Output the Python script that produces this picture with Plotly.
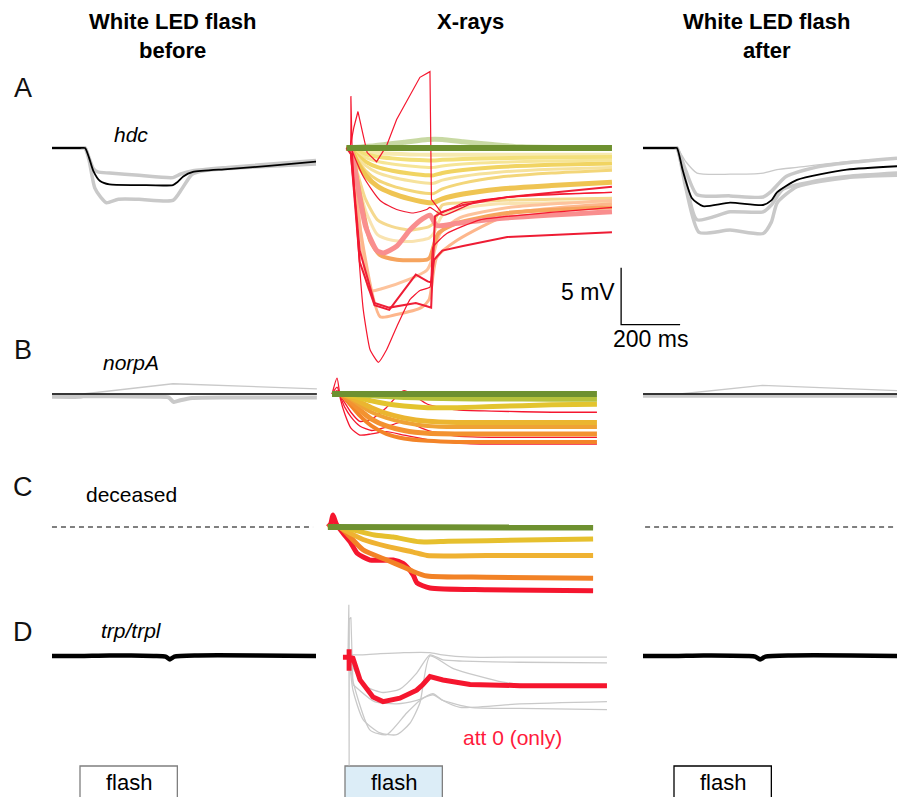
import plotly.graph_objects as go

W, H = 897, 797
PX_PER_MS = 0.295      # horizontal scale shared by every panel
PX_PER_MV = 11.4       # vertical scale shared by every panel
FLASH_MS = 330
SCALE_MS = 200
SCALE_MV = 5
FONT = "Liberation Sans, Arial, Helvetica, sans-serif"

# ---------------------------------------------------------------- data
# time in ms from flash onset, membrane potential in mV from rest

# A  hdc, white LED before
hdc_before_black_t = [-95, 0, 17, 30, 45, 68, 100, 200, 315, 330, 350, 383, 500, 650, 800]
hdc_before_black_v = [0, 0, 0, -0.8, -2.0, -2.9, -3.2, -3.25, -3.25, -3.0, -2.5, -2.1, -1.85, -1.55, -1.2]
hdc_before_grey1_t = [-95, 0, 17, 30, 45, 60, 100, 200, 315, 340, 383, 500, 800]
hdc_before_grey1_v = [0, 0, 0, -0.8, -1.8, -2.1, -2.2, -2.4, -2.6, -2.3, -2.0, -1.7, -1.1]
hdc_before_grey2_t = [-95, 0, 17, 30, 50, 70, 90, 130, 200, 315, 345, 380, 420, 500, 800]
hdc_before_grey2_v = [0, 0, 0, -1.0, -3.5, -4.3, -4.8, -4.5, -4.5, -4.6, -3.6, -2.3, -2.0, -1.8, -1.4]

# A  hdc, white LED after
hdc_after_black_t = [-105, 0, 10, 30, 61, 98, 190, 302, 330, 349, 417, 586, 756]
hdc_after_black_v = [0, 0, 0, -2.0, -4.4, -5.1, -4.8, -5.0, -4.6, -3.9, -2.8, -1.9, -1.6]
hdc_after_thin_t = [-105, 0, 10, 40, 78, 190, 302, 349, 417, 586, 756]
hdc_after_thin_v = [0, 0, 0, -1.2, -2.2, -2.3, -2.2, -1.9, -1.7, -1.2, -0.9]
hdc_after_grey1_t = [-105, 0, 10, 40, 78, 190, 302, 330, 380, 480, 586, 756]
hdc_after_grey1_v = [0, 0, 0, -2.0, -4.1, -4.2, -4.3, -3.8, -2.5, -1.7, -1.3, -0.9]
hdc_after_grey2_t = [-105, 0, 10, 40, 78, 190, 302, 330, 370, 480, 586, 756]
hdc_after_grey2_v = [0, 0, 0, -3.0, -6.3, -5.6, -5.6, -5.0, -3.6, -2.9, -2.5, -2.2]
hdc_after_grey3_t = [-105, 0, 10, 40, 85, 190, 302, 330, 350, 417, 586, 756]
hdc_after_grey3_v = [0, 0, 0, -3.5, -7.4, -7.2, -7.5, -6.5, -4.8, -3.4, -2.6, -2.4]

# A  hdc, X-ray responses (attenuation series)
hdc_xray_t = [5, 20, 40, 70, 110, 160, 220, 285, 300, 330, 400, 520, 700, 905]
hdc_xray_y1 = [0, 0, -0.15, -0.3, -0.42, -0.5, -0.56, -0.6, -0.6, -0.6, -0.6, -0.6, -0.6, -0.6]
hdc_xray_y2 = [0, -0.02, -0.28, -0.55, -0.77, -0.91, -1.02, -1.1, -1.1, -1.04, -0.97, -0.89, -0.84, -0.8]
hdc_xray_y3 = [0, -0.03, -0.43, -0.85, -1.19, -1.41, -1.58, -1.7, -1.7, -1.57, -1.41, -1.25, -1.13, -1.05]
hdc_xray_y4 = [0, -0.05, -0.6, -1.2, -1.68, -1.99, -2.23, -2.4, -2.4, -2.19, -1.93, -1.67, -1.48, -1.35]
hdc_xray_y5 = [0, -0.06, -0.78, -1.55, -2.17, -2.57, -2.88, -3.1, -3.1, -2.82, -2.47, -2.12, -1.87, -1.7]
hdc_xray_y6 = [0, -0.08, -1.0, -2.0, -2.8, -3.32, -3.72, -4.0, -4.0, -3.59, -3.08, -2.57, -2.2, -1.95]
hdc_xray_y7 = [0, -0.1, -1.2, -2.4, -3.36, -3.98, -4.46, -4.8, -4.8, -4.46, -4.04, -3.61, -3.3, -3.0]
hdc_xray_y8 = [0, -0.1, -2.0, -4.5, -6.3, -6.9, -7.2, -6.9, -6.6, -5.0, -4.8, -4.6, -4.5, -4.4]
hdc_xray_y9 = [0, -0.1, -2.5, -5.5, -7.6, -8.1, -8.2, -7.9, -7.5, -5.9, -5.3, -4.9, -4.8, -4.7]

hdc_xray_peach1_t = [5, 20, 40, 85, 130, 210, 278, 295, 322, 390, 560, 905]
hdc_xray_peach1_v = [0, -0.1, -4.0, -12.5, -12.3, -11.6, -10.7, -9.8, -7.5, -6.1, -5.2, -4.6]
hdc_xray_peach2_t = [5, 20, 45, 119, 175, 258, 285, 311, 380, 560, 905]
hdc_xray_peach2_v = [0, -0.2, -6.0, -14.8, -14.6, -14.0, -13.3, -9.6, -8.1, -5.8, -4.9]
hdc_xray_pink_t = [5, 20, 44, 70, 108, 130, 176, 220, 264, 288, 311, 380, 515, 905]
hdc_xray_pink_v = [0, -0.2, -3.5, -6.9, -9.0, -9.2, -8.6, -7.2, -6.2, -5.9, -6.8, -6.6, -6.2, -5.6]
hdc_xray_orange_t = [5, 20, 50, 85, 119, 176, 278, 288, 316, 379, 550, 905]
hdc_xray_orange_v = [0, -0.2, -4.0, -8.1, -9.4, -9.8, -9.8, -9.6, -7.5, -6.6, -5.7, -5.2]

hdc_xray_red1_t = [5, 20, 50, 100, 150, 200, 240, 280, 292, 305, 330, 400, 550, 905]
hdc_xray_red1_v = [0, -0.5, -9.0, -13.6, -14.0, -13.8, -13.6, -13.9, -14.0, -6.0, -5.6, -5.0, -4.3, -3.4]
hdc_xray_red2_t = [5, 20, 50, 100, 150, 200, 240, 280, 292, 302, 330, 400, 550, 905]
hdc_xray_red2_v = [0, -0.5, -10.0, -13.8, -14.2, -12.5, -11.1, -11.7, -11.8, -9.8, -9.0, -8.6, -7.8, -7.4]
hdc_xray_redup_t = [5, 17, 30, 44, 60, 75, 107, 141, 175, 232, 254, 288, 293, 328, 400, 627, 905]
hdc_xray_redup_v = [0, 0, 1.8, 3.2, 1.3, -0.4, -1.2, 0.2, 2.5, 5.1, 6.2, 6.7, -4.5, -5.7, -4.8, -4.1, -3.9]
hdc_xray_redmid_t = [20, 62, 119, 175, 232, 277, 288, 311, 335, 458, 905]
hdc_xray_redmid_v = [0, -2.5, -4.6, -5.4, -5.7, -5.4, -5.2, -5.6, -5.9, -4.6, -3.9]
hdc_xray_reddeep_t = [5, 17, 20, 24, 40, 62, 85, 113, 141, 175, 220, 254, 288, 298, 345, 458, 905]
hdc_xray_reddeep_v = [0, 0, 4.5, 0, -6.9, -14.2, -17.7, -18.8, -17.7, -15.7, -13.3, -12.5, -12.2, -8.7, -7.5, -6.3, -5.2]

hdc_xray_palegreen_t = [5, 100, 200, 280, 330, 400, 500, 600, 905]
hdc_xray_palegreen_v = [0, 0.2, 0.5, 0.75, 0.75, 0.55, 0.3, 0.1, 0.0]
hdc_xray_green_t = [5, 300, 600, 905]
hdc_xray_green_v = [0, 0, 0, 0]

# B  norpA
norpa_before_grey_t = [-95, 0, 10, 100, 250, 300, 318, 340, 380, 500, 803]
norpa_before_grey_v = [-0.25, -0.25, -0.2, -0.2, -0.25, -0.3, -0.7, -0.55, -0.35, -0.3, -0.3]
norpa_before_thin_t = [-95, 10, 315, 803]
norpa_before_thin_v = [0, 0, 0.9, 0.45]
norpa_before_black_t = [-95, 803]
norpa_before_black_v = [0, 0]
norpa_after_grey_t = [-105, 756]
norpa_after_grey_v = [-0.15, -0.15]
norpa_after_thin_t = [-105, 20, 300, 756]
norpa_after_thin_v = [0, 0, 0.75, 0.3]
norpa_after_black_t = [-105, 756]
norpa_after_black_v = [0, 0]

norpa_xray_t = [-44, -27, -15, 0, 20, 50, 90, 140, 200, 280, 380, 500, 700, 854]
norpa_xray_red1 = [0, 1.4, -0.5, -1.8, -3.0, -3.6, -3.5, -3.3, -3.6, -4.0, -4.3, -4.4, -4.4, -4.4]
norpa_xray_red2 = [0, 0.6, -0.2, -0.8, -1.6, -2.4, -2.2, -1.2, 0.3, -0.9, -1.4, -1.5, -1.6, -1.6]
norpa_xray_red3 = [0, 0.3, -0.3, -1.2, -2.0, -2.8, -3.2, -2.9, -2.4, -3.2, -3.7, -3.8, -3.8, -3.8]
norpa_xray_orange2 = [0, 0, -0.05, -0.4, -1.0, -1.9, -2.8, -3.5, -3.9, -4.1, -4.2, -4.2, -4.2, -4.2]
norpa_xray_orange1 = [0, 0, 0, -0.25, -0.7, -1.4, -2.2, -2.8, -3.2, -3.45, -3.5, -3.5, -3.5, -3.5]
norpa_xray_gold2 = [0, 0, 0, -0.15, -0.45, -1.0, -1.6, -2.1, -2.5, -2.8, -2.9, -2.9, -2.9, -2.9]
norpa_xray_gold1 = [0, 0, 0, -0.1, -0.3, -0.7, -1.2, -1.7, -2.1, -2.4, -2.5, -2.5, -2.5, -2.5]
norpa_xray_yellow = [0, 0, 0, -0.05, -0.15, -0.35, -0.6, -0.85, -1.05, -1.2, -1.2, -1.1, -0.95, -0.9]
norpa_xray_lime = [0, 0, 0, 0, -0.02, -0.08, -0.15, -0.23, -0.3, -0.37, -0.42, -0.44, -0.45, -0.45]
norpa_xray_green = [0, 0, 0, 0, 0, 0, 0, 0, 0, 0, 0, 0, 0, 0]

# C  deceased
dead_before_t = [-95, 790]
dead_before_v = [0, 0]
dead_after_t = [-98, 756]
dead_after_v = [0, 0]
dead_xray_red_t = [-58, -48, -41, -30, -7, 20, 41, 85, 163, 197, 210, 231, 244, 288, 481, 841]
dead_xray_red_v = [0, 0.3, 1.05, 0.3, -0.53, -1.4, -2.3, -2.9, -2.9, -3.2, -3.5, -4.2, -4.9, -5.35, -5.5, -5.6]
dead_xray_orange_t = [-58, -20, 0, 61, 142, 197, 231, 278, 481, 841]
dead_xray_orange_v = [0, 0, -0.4, -2.0, -2.9, -3.5, -3.9, -4.3, -4.4, -4.5]
dead_xray_gold_t = [-58, -20, 0, 61, 142, 231, 278, 481, 841]
dead_xray_gold_v = [0, 0, -0.3, -1.1, -1.7, -2.2, -2.5, -2.5, -2.5]
dead_xray_yellow_t = [-58, -20, 20, 100, 163, 254, 350, 481, 841]
dead_xray_yellow_v = [0, 0, -0.2, -0.7, -0.88, -1.3, -1.25, -1.2, -1.05]
dead_xray_green_t = [-58, 841]
dead_xray_green_v = [0, -0.05]

# D  trp/trpl
trp_before_t = [-95, 0, 100, 250, 290, 305, 320, 400, 600, 800]
trp_before_v = [0, 0, 0.05, 0, -0.05, -0.3, -0.05, 0.05, 0.05, 0]
trp_after_t = [-105, 0, 100, 250, 275, 292, 310, 400, 600, 756]
trp_after_v = [0, 0, 0.05, 0, -0.05, -0.3, -0.05, 0.05, 0.05, 0]
trp_xray_spike_t = [10, 13, 14, 14.5, 20, 27]
trp_xray_spike_v = [0, 4.5, -9.6, 3.2, 3.4, -2.5]
trp_xray_g1_t = [14, 60, 120, 200, 288, 330, 424, 593, 888]
trp_xray_g1_v = [0.1, 0.1, 0.2, 0.3, 0.3, 0.1, -0.1, -0.1, -0.1]
trp_xray_g2_t = [14, 27, 73, 129, 186, 243, 288, 332, 400, 593, 888]
trp_xray_g2_v = [0, -1.0, -2.7, -3.2, -2.9, -1.5, 0.1, -0.35, -0.45, -0.55, -0.6]
trp_xray_g3_t = [14, 27, 62, 119, 175, 220, 254, 288, 367, 536, 649, 888]
trp_xray_g3_v = [0, -3.0, -5.6, -6.75, -6.9, -5.9, -4.1, 0.0, -1.1, -2.3, -2.6, -2.7]
trp_xray_g4_t = [14, 27, 85, 141, 209, 254, 298, 332, 390, 593, 888]
trp_xray_g4_v = [0, -2.2, -6.5, -6.9, -5.0, -3.9, -3.3, -3.9, -4.5, -4.2, -4.0]
trp_xray_g5_t = [27, 100, 175, 243, 298, 332, 424, 593, 888]
trp_xray_g5_v = [-2.5, -4.0, -4.2, -3.9, -3.4, -3.9, -4.5, -4.6, -4.7]
trp_xray_red_t = [-7, 14, 14, 14, 14, 27, 51, 95, 129, 186, 243, 264, 288, 332, 424, 593, 888]
trp_xray_red_v = [-0.1, -0.1, 0.6, -1.3, -0.1, -0.2, -2.1, -3.6, -4.0, -3.7, -3.0, -2.5, -1.8, -2.1, -2.5, -2.6, -2.6]

# text
col_titles = ["White LED flash<br>before", "X-rays", "White LED flash<br>after"]
row_letters = ["A", "B", "C", "D"]
genotypes = ["<i>hdc</i>", "<i>norpA</i>", "deceased", "<i>trp/trpl</i>"]

# ---------------------------------------------------------------- layout
COLS = [dict(left=40, right=330, onset=80),
        dict(left=325, right=625, onset=345),
        dict(left=630, right=897, onset=674)]
ROWS = [dict(top=55, bottom=368, base=148),
        dict(top=368, bottom=462, base=394),
        dict(top=462, bottom=600, base=527),
        dict(top=600, bottom=772, base=656)]

fig = go.Figure()
axes = {}


def ax_index(r, c):
    return r * 3 + c + 1


def ax_names(r, c):
    i = ax_index(r, c)
    return ("x", "y") if i == 1 else (f"x{i}", f"y{i}")


for r, row in enumerate(ROWS):
    for c, col in enumerate(COLS):
        i = ax_index(r, c)
        right = 700 if (r == 0 and c == 1) else col["right"]
        xn, yn = ax_names(r, c)
        axes["xaxis" if i == 1 else f"xaxis{i}"] = dict(
            domain=[col["left"] / W, right / W],
            range=[(col["left"] - col["onset"]) / PX_PER_MS, (right - col["onset"]) / PX_PER_MS],
            anchor=yn, visible=False, fixedrange=True)
        axes["yaxis" if i == 1 else f"yaxis{i}"] = dict(
            domain=[1 - row["bottom"] / H, 1 - row["top"] / H],
            range=[(row["base"] - row["bottom"]) / PX_PER_MV, (row["base"] - row["top"]) / PX_PER_MV],
            anchor=xn, visible=False, fixedrange=True)


def add(r, c, t, v, color, width, shape="spline", dash=None, smoothing=0.6):
    xn, yn = ax_names(r, c)
    line = dict(color=color, width=width, shape=shape, dash=dash)
    if shape == "spline":
        line["smoothing"] = smoothing
    fig.add_trace(go.Scatter(x=t, y=v, mode="lines", xaxis=xn, yaxis=yn, line=line,
                             hoverinfo="skip", showlegend=False))


GREY = "#c9c9c9"
GREEN = "#6e9130"

# A / before
add(0, 0, hdc_before_grey1_t, hdc_before_grey1_v, GREY, 3.5)
add(0, 0, hdc_before_grey2_t, hdc_before_grey2_v, GREY, 3.5)
add(0, 0, hdc_before_black_t, hdc_before_black_v, "black", 1.8)
# A / after
add(0, 2, hdc_after_thin_t, hdc_after_thin_v, GREY, 1.3)
add(0, 2, hdc_after_grey1_t, hdc_after_grey1_v, GREY, 3.5)
add(0, 2, hdc_after_grey2_t, hdc_after_grey2_v, GREY, 3.5)
add(0, 2, hdc_after_grey3_t, hdc_after_grey3_v, GREY, 3.5)
add(0, 2, hdc_after_black_t, hdc_after_black_v, "black", 1.8)
# A / X-rays
add(0, 1, hdc_xray_palegreen_t, hdc_xray_palegreen_v, "#c8d9a3", 5)
for vals, colr, w in [(hdc_xray_y9, "#f9e3b0", 3), (hdc_xray_y8, "#f5d98f", 3),
                      (hdc_xray_y1, "#f7eab0", 4), (hdc_xray_y2, "#f3e07a", 4),
                      (hdc_xray_y3, "#f6e596", 3), (hdc_xray_y4, "#f1d462", 4),
                      (hdc_xray_y5, "#f6e29c", 3), (hdc_xray_y6, "#f3d679", 3),
                      (hdc_xray_y7, "#efc452", 5)]:
    add(0, 1, hdc_xray_t, vals, colr, w)
add(0, 1, hdc_xray_peach1_t, hdc_xray_peach1_v, "#fdc39c", 3)
add(0, 1, hdc_xray_peach2_t, hdc_xray_peach2_v, "#fdb68c", 3)
add(0, 1, hdc_xray_orange_t, hdc_xray_orange_v, "#f6a45e", 4)
add(0, 1, hdc_xray_pink_t, hdc_xray_pink_v, "#f98e8e", 5)
add(0, 1, hdc_xray_red1_t, hdc_xray_red1_v, "#ef2038", 2, shape="linear")
add(0, 1, hdc_xray_red2_t, hdc_xray_red2_v, "#ee1c34", 2, shape="linear")
add(0, 1, hdc_xray_redmid_t, hdc_xray_redmid_v, "#f01830", 1.2)
add(0, 1, hdc_xray_reddeep_t, hdc_xray_reddeep_v, "#f5162e", 1.2, smoothing=0.4)
add(0, 1, hdc_xray_redup_t, hdc_xray_redup_v, "#f5162e", 1.2, shape="linear")
add(0, 1, hdc_xray_green_t, hdc_xray_green_v, GREEN, 6)

# scale bar (drawn in the X-ray hdc axes)
SCALE_T0, SCALE_V0 = 936, -15.5
add(0, 1, [SCALE_T0, SCALE_T0, SCALE_T0 + SCALE_MS], [SCALE_V0 + SCALE_MV, SCALE_V0, SCALE_V0],
    "black", 1.3, shape="linear")

# B
add(1, 0, norpa_before_grey_t, norpa_before_grey_v, GREY, 4)
add(1, 0, norpa_before_thin_t, norpa_before_thin_v, GREY, 1.3, shape="linear")
add(1, 0, norpa_before_black_t, norpa_before_black_v, "black", 1.6)
add(1, 2, norpa_after_grey_t, norpa_after_grey_v, GREY, 4)
add(1, 2, norpa_after_thin_t, norpa_after_thin_v, GREY, 1.3, shape="linear")
add(1, 2, norpa_after_black_t, norpa_after_black_v, "black", 1.6)
for vals, colr, w in [(norpa_xray_red1, "#f5162e", 1.3), (norpa_xray_red2, "#f5162e", 1.3),
                      (norpa_xray_red3, "#f5162e", 1.3), (norpa_xray_orange2, "#f38428", 4),
                      (norpa_xray_orange1, "#f39230", 5), (norpa_xray_gold2, "#efa235", 4),
                      (norpa_xray_gold1, "#ebb530", 5), (norpa_xray_yellow, "#e3c42e", 5),
                      (norpa_xray_lime, "#b5c23c", 5), (norpa_xray_green, GREEN, 6)]:
    add(1, 1, norpa_xray_t, vals, colr, w)

# C
add(2, 0, dead_before_t, dead_before_v, "black", 1, shape="linear", dash="5px,4px")
add(2, 2, dead_after_t, dead_after_v, "black", 1, shape="linear", dash="5px,4px")
add(2, 1, dead_xray_red_t, dead_xray_red_v, "#f5162e", 5)
add(2, 1, dead_xray_orange_t, dead_xray_orange_v, "#f28226", 5)
add(2, 1, dead_xray_gold_t, dead_xray_gold_v, "#efb232", 5)
add(2, 1, dead_xray_yellow_t, dead_xray_yellow_v, "#e6c02e", 5)
add(2, 1, dead_xray_green_t, dead_xray_green_v, GREEN, 6)

# D
add(3, 0, trp_before_t, trp_before_v, "black", 4.5)
add(3, 2, trp_after_t, trp_after_v, "black", 4.5)
add(3, 1, trp_xray_spike_t, trp_xray_spike_v, GREY, 1.2, shape="linear")
for tt, vv in [(trp_xray_g1_t, trp_xray_g1_v), (trp_xray_g2_t, trp_xray_g2_v),
               (trp_xray_g3_t, trp_xray_g3_v), (trp_xray_g4_t, trp_xray_g4_v),
               (trp_xray_g5_t, trp_xray_g5_v)]:
    add(3, 1, tt, vv, GREY, 1.3)
add(3, 1, trp_xray_red_t, trp_xray_red_v, "#f5162e", 5, shape="linear")

# flash boxes under each column
box_styles = [dict(fill="white", line="#7f7f7f"),
              dict(fill="#dcedf7", line="#7f7f7f"),
              dict(fill="white", line="black")]
for c, st in enumerate(box_styles):
    xn, _ = ax_names(3, c)
    fig.add_shape(type="rect", xref=xn, yref="paper", x0=0, x1=FLASH_MS,
                  y0=1 - 766 / H, y1=-0.02, fillcolor=st["fill"],
                  line=dict(color=st["line"], width=1.3), layer="below")
    fig.add_annotation(xref=xn, yref="paper", x=FLASH_MS / 2, y=1 - 782 / H, text="flash",
                       showarrow=False, font=dict(family=FONT, size=22, color="black"),
                       xanchor="center", yanchor="middle")


def label(x_px, y_px, text, size, color="black", xanchor="center"):
    fig.add_annotation(x=x_px / W, y=1 - y_px / H, xref="paper", yref="paper", text=text,
                       showarrow=False, font=dict(family=FONT, size=size, color=color),
                       xanchor=xanchor, yanchor="middle")


for x_px, txt in zip([172, 470, 766], col_titles):
    fig.add_annotation(x=x_px / W, y=1 - 7 / H, xref="paper", yref="paper",
                       text=f"<b>{txt}</b>", showarrow=False, align="center",
                       font=dict(family=FONT, size=22, color="black"),
                       xanchor="center", yanchor="top")

for y_px, letter in zip([88, 350, 487, 632], row_letters):
    label(23, y_px, letter, 27, color="#111111")
for y_px, g in zip([134, 362, 495, 630], genotypes):
    label(131, y_px, g, 21)

label(512, 737, "att 0 (only)", 21, color="#ff1a3c")
label(617, 292, "5 mV", 23, xanchor="right")
label(650, 339, "200 ms", 23)

fig.update_layout(width=W, height=H, margin=dict(l=0, r=0, t=0, b=0),
                  paper_bgcolor="white", plot_bgcolor="rgba(0,0,0,0)", **axes)

fig.write_html("out.html")
